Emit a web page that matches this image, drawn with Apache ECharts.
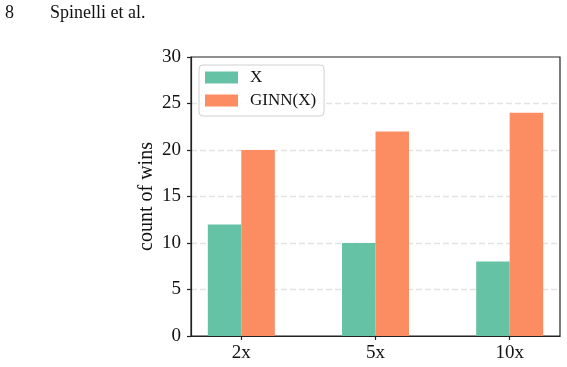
<!DOCTYPE html>
<html>
<head>
<meta charset="utf-8">
<script src="https://cdn.jsdelivr.net/npm/echarts@6/dist/echarts.min.js"></script>
<style>
  html, body { margin: 0; padding: 0; background: #fff; }
  #chart_wins { width: 567px; height: 367px; }
</style>
</head>
<body>
<div id="chart_wins"></div>
<script>
const categories = ['2x', '5x', '10x'];
const valuesX = [12, 10, 8];
const valuesGinn = [20, 22, 24];
const yTicks = [0, 5, 10, 15, 20, 25, 30];

const serif = '"Liberation Serif", "DejaVu Serif", serif';
const axisColor = '#222';

function getOptionWins() {
    const positions = categories.map((c, i) => i);
    return {
        backgroundColor: '#fff',
        animation: false,
        title: [
            { text: '8', left: 5, top: 4, padding: 0, textStyle: { fontFamily: serif, fontSize: 18, fontWeight: 400, color: '#111' } },
            { text: 'Spinelli et al.', left: 50, top: 4, padding: 0, textStyle: { fontFamily: serif, fontSize: 18, fontWeight: 400, color: '#111' } }
        ],
        grid: {
            left: 191,
            right: 7,
            top: 57,
            bottom: 31,
            show: true,
            borderColor: axisColor,
            borderWidth: 1.2
        },
        legend: {
            orient: 'vertical',
            left: 199,
            top: 65,
            padding: [4, 8, 7, 6],
            itemWidth: 33,
            itemHeight: 12,
            itemGap: 6,
            icon: 'rect',
            borderColor: '#d0d0d0',
            borderWidth: 1,
            borderRadius: 4,
            backgroundColor: 'rgba(255,255,255,0.8)',
            textStyle: { fontFamily: serif, fontSize: 17, color: '#111', lineHeight: 12, padding: [0, 0, 0, 7] },
            data: ['X', 'GINN(X)']
        },
        xAxis: {
            type: 'value',
            min: -0.375,
            max: 2.375,
            splitLine: { show: false },
            axisLine: { show: true, onZero: false, lineStyle: { color: axisColor, width: 1.2 } },
            axisTick: { show: true, length: 4, customValues: positions, lineStyle: { color: axisColor, width: 1.2 } },
            axisLabel: {
                customValues: positions,
                formatter: v => categories[Math.round(v)],
                margin: 8,
                fontFamily: serif,
                fontSize: 19,
                color: '#111'
            }
        },
        yAxis: {
            type: 'value',
            min: 0,
            max: 30,
            interval: 5,
            name: 'count of wins',
            nameLocation: 'middle',
            nameGap: 34,
            nameMoveOverlap: false,
            nameTextStyle: { fontFamily: serif, fontSize: 20, color: '#111' },
            axisLine: { show: true, onZero: false, lineStyle: { color: axisColor, width: 1.2 } },
            axisTick: { show: true, length: 4, lineStyle: { color: axisColor, width: 1.2 } },
            axisLabel: {
                margin: 10,
                fontFamily: serif,
                fontSize: 19,
                color: '#111',
                formatter: v => yTicks.includes(v) ? String(v) : ''
            },
            splitLine: {
                show: true,
                showMinLine: false,
                showMaxLine: false,
                lineStyle: { color: '#e3e3e3', width: 1.3, type: [6, 3] }
            }
        },
        series: [
            {
                name: 'X',
                type: 'bar',
                barWidth: 33.5,
                barGap: '0%',
                itemStyle: { color: '#66c2a5' },
                emphasis: { disabled: true },
                data: valuesX.map((v, i) => [positions[i], v])
            },
            {
                name: 'GINN(X)',
                type: 'bar',
                barWidth: 33.5,
                barGap: '0%',
                itemStyle: { color: '#fc8d62' },
                emphasis: { disabled: true },
                data: valuesGinn.map((v, i) => [positions[i], v])
            }
        ]
    };
}

const chart = echarts.init(document.getElementById('chart_wins'), null, { renderer: 'canvas' });
chart.setOption(getOptionWins());
</script>
</body>
</html>
